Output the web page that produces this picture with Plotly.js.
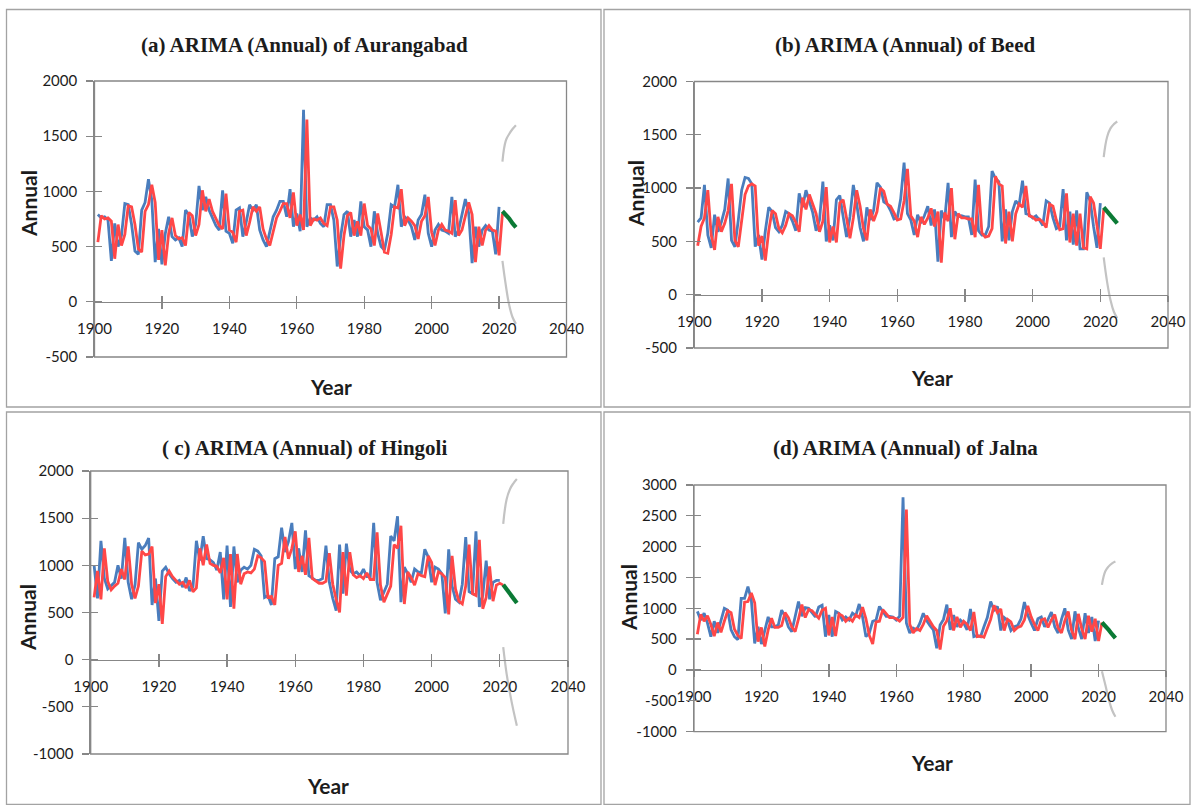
<!DOCTYPE html>
<html>
<head>
<meta charset="utf-8">
<script src="https://cdn.plot.ly/plotly-3.0.1.min.js"></script>
<style>
html,body{margin:0;padding:0;background:#ffffff;}
#chart{width:1192px;height:805px;}
</style>
</head>
<body>
<div id="chart"></div>
<script>
// ---------------- DATA ----------------
const yearsActual = Array.from({length:120}, (_, i) => 1901 + i);   // 1901-2020
const yearsFitted = Array.from({length:121}, (_, i) => 1901 + i);   // 1901-2021
const yearsForecast = [2021, 2022, 2023, 2024, 2025];
const xTickVals = [1900, 1920, 1940, 1960, 1980, 2000, 2020, 2040];
const yTicksAB = [-500, 0, 500, 1000, 1500, 2000];
const yTicksC = [-1000, -500, 0, 500, 1000, 1500, 2000];
const yTicksD = [-1000, -500, 0, 500, 1000, 1500, 2000, 2500, 3000];

// (a) Aurangabad
const aurangabadActual = [
  790,760,770,740,370,710,500,600,890,880,
  700,460,430,830,900,1110,920,360,660,340,
  620,770,590,560,580,500,830,790,590,700,
  1050,830,950,830,760,690,650,1010,640,620,
  530,830,850,590,720,880,830,880,650,560,
  500,640,770,830,910,910,770,1020,680,800,
  640,1740,680,760,740,770,710,680,880,880,
  740,320,590,790,820,590,740,590,910,680,
  650,500,820,620,500,470,620,880,860,1060,
  680,770,740,680,560,740,790,970,620,500,
  650,700,650,640,620,950,590,650,780,930,
  800,350,680,500,650,690,650,640,430,860];
const aurangabadFitted = [
  540,780,750,760,730,390,700,510,610,870,
  860,700,480,450,820,880,1060,900,380,650,
  330,620,760,600,570,580,510,810,780,600,
  700,1010,820,930,820,750,690,660,980,650,
  630,540,820,830,600,720,860,820,860,660,
  570,510,650,760,820,890,890,760,990,690,
  790,650,1650,690,750,740,760,710,690,860,
  860,740,300,600,780,810,600,730,600,890,
  690,660,510,800,630,450,440,610,860,850,
  1020,690,760,730,690,570,730,780,950,630,
  510,650,700,650,640,620,920,600,650,770,
  900,790,360,680,510,650,690,650,640,420,
  800];
const aurangabadForecast = [820, 790, 755, 710, 675];
const aurangabadUpper = [1270, 1460, 1520, 1565, 1600];
const aurangabadLower = [370, 150, -30, -140, -200];

// (b) Beed
const beedActual = [
  680,720,1030,560,440,750,590,680,800,1090,
  510,450,700,980,1100,1090,1040,450,560,330,
  600,820,780,630,590,650,780,760,690,600,
  950,820,980,870,770,600,700,1060,500,650,
  510,890,930,730,540,730,1030,850,630,500,
  820,700,790,1050,1010,870,850,790,710,720,
  900,1240,760,700,560,750,670,740,830,650,
  800,310,790,700,1050,540,780,730,740,730,
  730,560,1080,600,560,560,640,1160,1090,1060,
  500,800,510,780,880,840,1070,760,750,720,
  740,700,650,880,860,720,620,640,990,510,
  780,470,790,430,430,960,880,640,440,860];
const beedFitted = [
  460,640,720,980,560,420,730,590,670,790,
  1040,510,450,690,940,1020,1040,1020,460,550,
  320,600,790,760,620,580,650,760,740,680,
  590,910,800,940,850,760,590,690,1010,490,
  640,490,860,890,720,530,720,980,830,620,
  510,800,690,780,1000,970,850,830,770,700,
  710,880,1180,740,690,540,730,660,720,810,
  640,780,300,770,690,1000,520,760,720,720,
  710,710,540,1030,580,540,550,620,1110,1040,
  1020,480,780,500,760,850,820,1020,740,730,
  700,710,680,630,850,830,700,610,620,950,
  490,760,460,760,440,430,920,860,650,430,
  800];
const beedForecast = [820, 785, 750, 710, 670];
const beedUpper = [1290, 1480, 1560, 1600, 1625];
const beedLower = [350, 120, -50, -160, -220];

// (c) Hingoli
const hingoliActual = [
  1000,650,1260,860,750,790,820,1000,860,1290,
  820,640,790,1240,1170,1210,1290,580,860,410,
  940,980,910,860,820,840,770,870,730,770,
  1260,1050,1310,1070,1060,1030,950,1140,640,1210,
  560,1200,820,950,980,960,1000,1170,1150,1100,
  660,680,580,1070,1090,1400,1140,1250,1450,960,
  1180,930,1370,890,860,840,840,860,1210,820,
  650,520,1220,700,1230,950,910,930,890,960,
  880,880,1450,820,630,720,800,1310,1260,1520,
  610,980,910,820,960,930,920,1170,1090,820,
  980,960,910,490,1170,780,640,610,800,1300,
  720,700,1360,560,680,1050,640,820,840,840];
const hingoliFitted = [
  660,940,640,1180,830,740,780,810,960,850,
  1200,800,650,780,1150,1110,1120,1200,600,800,
  380,880,940,880,840,800,820,760,840,720,
  760,1180,1000,1220,1020,1000,990,920,1080,640,
  1120,540,1120,800,910,930,920,960,1100,1080,
  1040,660,670,580,1000,1020,1300,1070,1180,1360,
  930,1100,900,1290,860,830,810,810,830,1130,
  800,640,500,1140,680,1140,900,870,890,860,
  920,850,850,1350,790,610,700,780,1220,1180,
  1420,590,930,870,790,910,890,880,1100,1030,
  790,930,910,870,480,1100,750,620,590,780,
  1220,700,680,1270,540,660,990,620,790,810,
  790];
const hingoliForecast = [795, 750, 700, 650, 600];
const hingoliUpper = [1440, 1700, 1810, 1870, 1915];
const hingoliLower = [134, -150, -360, -540, -700];

// (d) Jalna
const jalnaActual = [
  950,810,920,760,540,790,600,810,1000,970,
  650,540,490,1160,1160,1350,1140,430,700,420,
  650,860,700,700,730,970,870,700,620,850,
  1110,870,1010,1000,930,860,1020,1050,540,890,
  540,950,920,810,860,810,920,880,1070,860,
  540,600,790,810,1030,950,870,870,860,810,
  870,2800,760,600,680,650,760,920,800,720,
  650,350,730,820,1060,650,890,700,810,760,
  650,990,540,560,540,700,850,1110,970,1030,
  640,850,800,640,700,720,830,1100,890,760,
  640,830,860,700,830,940,700,600,820,1000,
  650,500,950,680,500,920,600,860,470,800];
const jalnaFitted = [
  580,900,790,880,740,550,770,610,790,960,
  930,660,560,510,1100,1110,1250,1090,460,690,
  380,650,840,690,690,720,930,850,700,620,
  830,1060,850,980,960,900,840,970,1000,560,
  860,550,910,880,790,840,790,890,850,1020,
  830,560,420,780,790,980,920,850,850,830,
  790,850,2600,740,600,670,640,740,880,780,
  700,640,330,710,800,1000,640,860,690,790,
  740,640,940,540,550,530,690,820,1050,930,
  990,640,820,780,640,690,710,810,1040,860,
  740,640,810,830,690,810,900,680,600,800,
  950,640,500,910,670,500,880,620,830,470,
  770];
const jalnaForecast = [770, 720, 650, 580, 515];
const jalnaUpper = [1380, 1600, 1680, 1730, 1760];
const jalnaLower = [-20, -240, -470, -650, -760];

// ---------------- LAYOUT HELPERS ----------------
const W = 1192, H = 805;
const px = x => x / W;
const py = y => 1 - y / H;

const panels = [
  {title:'(a) ARIMA (Annual) of Aurangabad', actual:aurangabadActual, fitted:aurangabadFitted,
   fc:aurangabadForecast, up:aurangabadUpper, lo:aurangabadLower, yRange:[-500,2000], yTicks:yTicksAB,
   plot:[94.5,566.5,81,357], box:[6.5,601,9.5,407], titleAt:[304,45], yLabAt:[28,204], xLabAt:[331,387]},
  {title:'(b) ARIMA (Annual) of Beed', actual:beedActual, fitted:beedFitted,
   fc:beedForecast, up:beedUpper, lo:beedLower, yRange:[-500,2000], yTicks:yTicksAB,
   plot:[694.3,1168,81.5,348], box:[604,1190,9.5,407], titleAt:[905,45], yLabAt:[636,193], xLabAt:[932,378]},
  {title:'( c) ARIMA (Annual) of Hingoli', actual:hingoliActual, fitted:hingoliFitted,
   fc:hingoliForecast, up:hingoliUpper, lo:hingoliLower, yRange:[-1000,2000], yTicks:yTicksC,
   plot:[90.7,568,471,754], box:[6.5,601,412,804.5], titleAt:[304,448], yLabAt:[27,618], xLabAt:[328,785]},
  {title:'(d) ARIMA (Annual) of Jalna', actual:jalnaActual, fitted:jalnaFitted,
   fc:jalnaForecast, up:jalnaUpper, lo:jalnaLower, yRange:[-1000,3000], yTicks:yTicksD,
   plot:[694,1166,485,731.6], box:[604,1190,412,804.5], titleAt:[905,448], yLabAt:[628,598], xLabAt:[932,762]}
];

const BLUE = '#4a7dbd', RED = '#ff4747', GREEN = '#0b7a35', GRAY = '#c3c3c3';
const AXIS = '#878787', TXT = '#1c1c1c';
const tickFont = {family:'Lato, "Open Sans", sans-serif', size:15, color:TXT};

const traces = [];
const layout = {
  width:W, height:H, margin:{l:0,r:0,t:0,b:0},
  paper_bgcolor:'#ffffff', plot_bgcolor:'rgba(0,0,0,0)',
  showlegend:false, hovermode:false,
  shapes:[], annotations:[]
};

panels.forEach((p, i) => {
  const n = i + 1, m = i + 5;
  const xd = [px(p.plot[0]), px(p.plot[1])];
  const yd = [py(p.plot[3]), py(p.plot[2])];
  const zeroPos = yd[0] + (0 - p.yRange[0]) / (p.yRange[1] - p.yRange[0]) * (yd[1] - yd[0]);

  traces.push({x:yearsActual, y:p.actual, xaxis:'x'+n, yaxis:'y'+n, type:'scatter', mode:'lines',
    line:{color:BLUE, width:2.8}, hoverinfo:'skip'});
  traces.push({x:yearsFitted, y:p.fitted, xaxis:'x'+m, yaxis:'y'+m, type:'scatter', mode:'lines',
    line:{color:RED, width:2.8}, hoverinfo:'skip'});
  traces.push({x:yearsForecast, y:p.up, xaxis:'x'+m, yaxis:'y'+m, type:'scatter', mode:'lines',
    line:{color:GRAY, width:2.2, shape:'spline', smoothing:1.2}, hoverinfo:'skip'});
  traces.push({x:yearsForecast, y:p.lo, xaxis:'x'+m, yaxis:'y'+m, type:'scatter', mode:'lines',
    line:{color:GRAY, width:2.2, shape:'spline', smoothing:1.2}, hoverinfo:'skip'});
  traces.push({x:yearsForecast, y:p.fc, xaxis:'x'+m, yaxis:'y'+m, type:'scatter', mode:'lines',
    line:{color:GREEN, width:4.2}, hoverinfo:'skip'});

  layout['xaxis'+n] = {domain:xd, range:[1900,2040], tickvals:xTickVals, ticktext:xTickVals.map(String),
    anchor:'free', position:zeroPos, showline:true, linecolor:AXIS, linewidth:1.3,
    ticks:'outside', ticklen:6, tickwidth:1.3, tickcolor:AXIS, ticklabelstandoff:7,
    showgrid:false, zeroline:false, tickfont:tickFont, fixedrange:true, automargin:false};
  layout['yaxis'+n] = {domain:yd, range:p.yRange, tickvals:p.yTicks, ticktext:p.yTicks.map(String), anchor:'x'+n,
    showline:true, linecolor:AXIS, linewidth:1.3,
    ticks:'outside', ticklen:7, tickwidth:1.3, tickcolor:AXIS, ticklabelstandoff:6,
    showgrid:false, zeroline:false, tickfont:tickFont, fixedrange:true, automargin:false};
  layout['xaxis'+m] = {domain:xd, range:[1900,2040], tickvals:xTickVals, overlaying:'x'+n,
    anchor:'free', position:zeroPos, showline:false, ticks:'inside', ticklen:6, tickwidth:1.3,
    tickcolor:AXIS, showticklabels:false, showgrid:false, zeroline:false, fixedrange:true, automargin:false};
  layout['yaxis'+m] = {domain:yd, range:p.yRange, tickvals:p.yTicks, overlaying:'y'+n, anchor:'x'+m,
    showline:false, ticks:'inside', ticklen:7, tickwidth:1.3, tickcolor:AXIS,
    showticklabels:false, showgrid:false, zeroline:false, fixedrange:true, automargin:false};

  layout.shapes.push({type:'rect', xref:'x'+n+' domain', yref:'y'+n+' domain', x0:0, x1:1, y0:0, y1:1,
    line:{color:AXIS, width:1.3}, fillcolor:'rgba(0,0,0,0)', layer:'above'});
  layout.shapes.push({type:'rect', xref:'paper', yref:'paper',
    x0:px(p.box[0]), x1:px(p.box[1]), y0:py(p.box[3]), y1:py(p.box[2]),
    line:{color:'#a3a3a3', width:1.3}, fillcolor:'rgba(0,0,0,0)', layer:'below'});

  layout.annotations.push({text:'<b>'+p.title+'</b>', xref:'paper', yref:'paper',
    x:px(p.titleAt[0]), y:py(p.titleAt[1]), xanchor:'center', yanchor:'middle', showarrow:false,
    font:{family:'"Liberation Serif", "DejaVu Serif", serif', size:21, color:TXT}});
  layout.annotations.push({text:'<b>Annual</b>', xref:'paper', yref:'paper', textangle:-90,
    x:px(p.yLabAt[0]), y:py(p.yLabAt[1]), xanchor:'center', yanchor:'middle', showarrow:false,
    font:{family:'Lato, "Open Sans", sans-serif', size:21, color:TXT}});
  layout.annotations.push({text:'<b>Year</b>', xref:'paper', yref:'paper',
    x:px(p.xLabAt[0]), y:py(p.xLabAt[1]), xanchor:'center', yanchor:'middle', showarrow:false,
    font:{family:'Lato, "Open Sans", sans-serif', size:21, color:TXT}});
});

Plotly.newPlot('chart', traces, layout, {staticPlot:true, displayModeBar:false});
</script>
</body>
</html>
